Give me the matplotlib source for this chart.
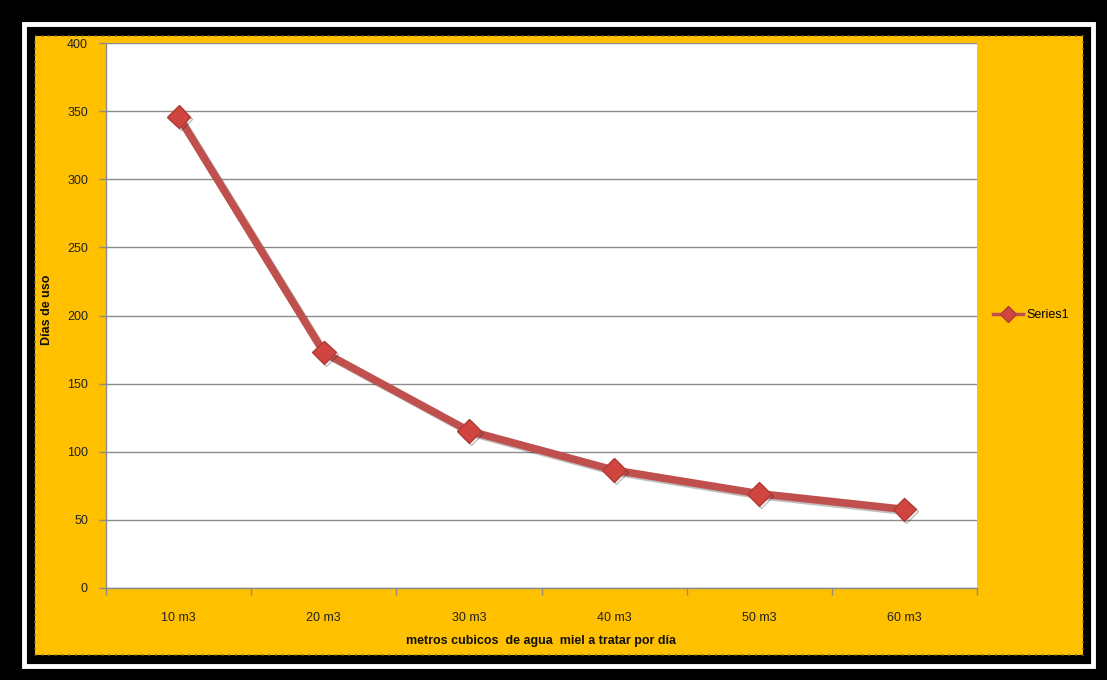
import matplotlib
matplotlib.use("Agg")
import matplotlib.pyplot as plt
import matplotlib.patheffects as pe
from matplotlib.lines import Line2D
from matplotlib.patches import Rectangle

categories = ["10 m3", "20 m3", "30 m3", "40 m3", "50 m3", "60 m3"]
dias_de_uso = [346, 173, 115.3, 86.5, 69.2, 57.7]
y_ticks = [0, 50, 100, 150, 200, 250, 300, 350, 400]

W, H = 1107, 680
GOLD = "#FFC000"
RED = "#C0504D"
GRID = "#8C8C8C"

plt.rcParams["font.family"] = ["Liberation Sans", "DejaVu Sans"]

fig = plt.figure(figsize=(W / 100, H / 100), dpi=100, facecolor="black")

# white frame line and gold chart background (behind the axes)
fig.patches.append(Rectangle((24 / W, 1 - 666 / H), (1093 - 24) / W, (666 - 24) / H,
                             transform=fig.transFigure, fill=False,
                             edgecolor="white", linewidth=3.5, zorder=-2))
fig.patches.append(Rectangle((35 / W, 1 - 655 / H), (1083 - 35) / W, (655 - 36) / H,
                             transform=fig.transFigure, facecolor=GOLD,
                             edgecolor="#8a7020", linewidth=1.2, linestyle=(0, (1, 3)),
                             zorder=-1))

ax = fig.add_axes([106 / W, 1 - 588 / H, (977 - 106) / W, (588 - 43) / H])
ax.set_facecolor("white")

x = list(range(len(categories)))
ax.plot(x, dias_de_uso, color=RED, linewidth=5.5, marker="D", markersize=12,
        markerfacecolor="#D0453F", markeredgecolor="#B03A35", markeredgewidth=1,
        zorder=3,
        path_effects=[pe.SimpleLineShadow(offset=(1.5, -1.5), alpha=0.25), pe.Normal()])

ax.set_xlim(-0.5, len(categories) - 0.5)
ax.set_ylim(0, 400)
ax.set_yticks(y_ticks)
ax.yaxis.grid(True, color=GRID, linewidth=1)
ax.set_axisbelow(True)

ax.set_xticks(x)
ax.set_xticklabels(categories)
ax.set_xticks([i - 0.5 for i in range(len(categories) + 1)], minor=True)
ax.tick_params(axis="x", which="major", length=0, pad=17, labelsize=9, colors="#222222")
ax.tick_params(axis="x", which="minor", length=5, color=GRID, width=1)
ax.tick_params(axis="y", length=5, color=GRID, width=1, pad=8, labelsize=9, colors="#222222")

for side in ("top", "right"):
    ax.spines[side].set_visible(False)
for side in ("left", "bottom"):
    ax.spines[side].set_color(GRID)
    ax.spines[side].set_linewidth(1)

ax.set_xlabel("metros cubicos  de agua  miel a tratar por día", fontsize=9,
              fontweight="bold", labelpad=8, color="#111111")
ax.set_ylabel("Días de uso", fontsize=9, fontweight="bold", color="#111111")
ax.yaxis.set_label_coords(-0.061, 0.51)

handle = Line2D([], [], color=RED, linewidth=2.5, marker="D", markersize=8,
                markerfacecolor="#D0453F", markeredgecolor="#B03A35")
ax.legend([handle], ["Series1"], loc="center left", bbox_to_anchor=(1.005, 0.5),
          frameon=False, fontsize=9, handlelength=2.4, handletextpad=0.3)

fig.savefig("out.png", dpi=100, facecolor=fig.get_facecolor())
